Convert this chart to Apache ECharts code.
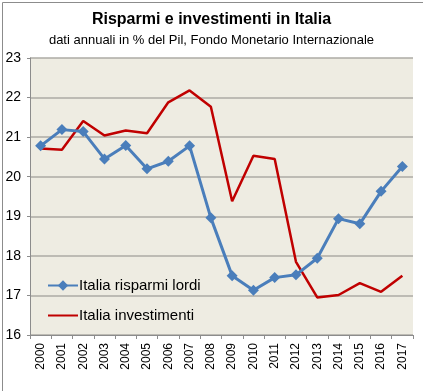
<!DOCTYPE html>
<html><head><meta charset="utf-8">
<script src="https://cdn.jsdelivr.net/npm/echarts@6/dist/echarts.min.js"></script>
<style>html,body{margin:0;padding:0;background:#fff}#c{width:423px;height:391px}</style>
</head><body><div id="c"></div>
<script>
const years = ['2000','2001','2002','2003','2004','2005','2006','2007','2008','2009','2010','2011','2012','2013','2014','2015','2016','2017'];
const risparmi = [20.78,21.19,21.14,20.45,20.79,20.20,20.39,20.78,18.96,17.50,17.13,17.45,17.52,17.94,18.94,18.81,19.63,20.26];
const investimenti = [20.71,20.68,21.41,21.04,21.17,21.10,21.88,22.18,21.77,19.38,20.53,20.45,17.85,16.95,17.01,17.31,17.09,17.50];
const yTicks = [16,17,18,19,20,21,22,23];
const titleText = 'Risparmi e investimenti in Italia';
const subText = 'dati annuali in % del Pil, Fondo Monetario Internazionale';
const nameA = 'Italia risparmi lordi';
const nameB = 'Italia investimenti';

const font = 'Liberation Sans';
const chart = echarts.init(document.getElementById('c'), null, {renderer:'canvas'});
chart.setOption({
  animation:false,
  backgroundColor:'#fff',
  title:{
    text:titleText, subtext:subText, left:'center', top:7, itemGap:6,
    textStyle:{fontFamily:font, fontWeight:'bold', fontSize:16, color:'#000'},
    subtextStyle:{fontFamily:font, fontSize:13, color:'#000'}
  },
  graphic:[{type:'rect', left:0, top:0, shape:{x:0.5,y:0.5,width:421,height:389}, style:{fill:'none', stroke:'#8c8c8c', lineWidth:1}, silent:true}],
  legend:{
    orient:'vertical', left:42, top:273, itemGap:15, itemWidth:30, itemHeight:13,
    textStyle:{fontFamily:font, fontSize:15, color:'#000', padding:[0,0,0,-4]},
    data:[nameA, {name:nameB, itemStyle:{color:'rgba(0,0,0,0)', borderWidth:0}}]
  },
  grid:{left:30, top:58, right:10, bottom:56, show:true, backgroundColor:'#EEECE2', borderWidth:0},
  xAxis:{
    type:'category', data:years, boundaryGap:true,
    axisLine:{lineStyle:{color:'#8c8c8c'}},
    axisTick:{show:true, alignWithLabel:false, length:4, lineStyle:{color:'#8c8c8c'}},
    axisLabel:{rotate:90, fontFamily:font, fontSize:12, color:'#000', margin:8, interval:0}
  },
  yAxis:{
    type:'value', min:16, max:23, interval:1,
    axisLine:{show:true, lineStyle:{color:'#8c8c8c'}},
    axisTick:{show:true, length:3, lineStyle:{color:'#8c8c8c'}},
    splitLine:{lineStyle:{color:'#ADABA4', width:1.5}},
    axisLabel:{fontFamily:font, fontSize:14, color:'#000', margin:9,
      formatter:v => yTicks.includes(v) ? String(v) : ''}
  },
  series:[
    {name:nameA, type:'line', data:risparmi, symbol:'diamond', symbolSize:11,
     lineStyle:{color:'#4A7EBB', width:3}, itemStyle:{color:'#4A7EBB'}, z:3},
    {name:nameB, type:'line', data:investimenti, symbol:'none', showSymbol:false,
     lineStyle:{color:'#C00000', width:2.5}, itemStyle:{color:'#C00000'}, z:2}
  ]
});
</script></body></html>
